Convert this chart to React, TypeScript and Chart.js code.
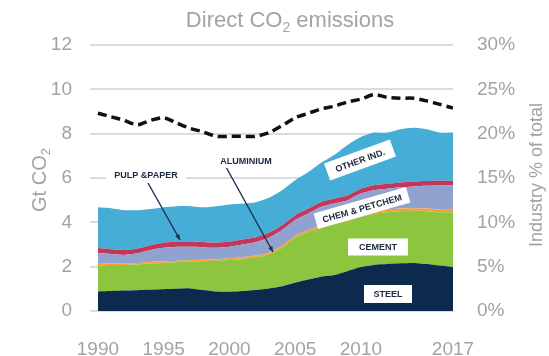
import React, { useEffect, useRef } from "react";
import { Chart, registerables } from "chart.js";

Chart.register(...registerables);

// Years on the horizontal axis
const years = [
  1990, 1991, 1992, 1993, 1994, 1995, 1996, 1997, 1998, 1999, 2000, 2001, 2002, 2003,
  2004, 2005, 2006, 2007, 2008, 2009, 2010, 2011, 2012, 2013, 2014, 2015, 2016, 2017,
];
const tickYears = [1990, 1995, 2000, 2005, 2010, 2017];

// Direct CO2 emissions by sector, Gt CO2 (stacked bottom to top)
const steel = [
  0.88, 0.9, 0.92, 0.94, 0.96, 0.98, 1.0, 1.02, 0.95, 0.88, 0.87, 0.9, 0.95, 1.02,
  1.12, 1.28, 1.42, 1.55, 1.62, 1.8, 1.98, 2.08, 2.12, 2.15, 2.17, 2.12, 2.05, 1.98,
];
const cement = [
  1.17, 1.17, 1.16, 1.16, 1.18, 1.19, 1.2, 1.2, 1.29, 1.39, 1.43, 1.45, 1.47, 1.53,
  1.73, 2.02, 2.13, 2.25, 2.33, 2.25, 2.27, 2.3, 2.33, 2.35, 2.35, 2.38, 2.4, 2.47,
];
const aluminium = [
  0.07, 0.07, 0.07, 0.07, 0.07, 0.07, 0.07, 0.07, 0.07, 0.07, 0.08, 0.08, 0.08, 0.08,
  0.09, 0.09, 0.1, 0.1, 0.11, 0.11, 0.12, 0.12, 0.12, 0.12, 0.12, 0.12, 0.12, 0.12,
];
const chemPetchem = [
  0.5, 0.43, 0.38, 0.43, 0.54, 0.61, 0.63, 0.61, 0.57, 0.51, 0.52, 0.57, 0.6, 0.67,
  0.71, 0.71, 0.75, 0.8, 0.79, 0.84, 0.93, 0.95, 0.95, 0.96, 0.98, 1.03, 1.09, 1.09,
];
const pulpPaper = [
  0.22, 0.22, 0.22, 0.22, 0.22, 0.23, 0.23, 0.23, 0.23, 0.23, 0.23, 0.23, 0.23, 0.23,
  0.22, 0.22, 0.22, 0.22, 0.22, 0.22, 0.22, 0.22, 0.22, 0.22, 0.22, 0.22, 0.22, 0.22,
];
const otherInd = [
  1.84, 1.85, 1.8, 1.73, 1.63, 1.6, 1.6, 1.6, 1.57, 1.65, 1.68, 1.62, 1.58, 1.58,
  1.58, 1.58, 1.65, 1.78, 1.98, 2.28, 2.33, 2.38, 2.31, 2.4, 2.43, 2.33, 2.17, 2.17,
];

// Industry share of total direct emissions, %
const industryShare = [
  22.3, 21.9, 21.5, 21.0, 21.5, 21.8, 21.2, 20.6, 20.2, 19.7, 19.7, 19.7, 19.7, 20.1,
  20.9, 21.8, 22.3, 22.8, 23.1, 23.6, 23.9, 24.4, 24.1, 24.0, 24.0, 23.7, 23.3, 22.9,
];

const GRAY = "#a3a3a3";
const FONT = "'Liberation Sans Narrow', 'Liberation Sans', Arial, sans-serif";
const LABEL_INK = "#1c2740";

const toPoints = (vals: number[]) => years.map((yr, i) => ({ x: yr, y: vals[i] }));

function drawSubscripted(
  ctx: CanvasRenderingContext2D,
  main: string,
  sub: string,
  tail: string,
  size: number,
  cx: number,
  baseline: number
) {
  ctx.font = `${size}px ${FONT}`;
  const a = ctx.measureText(main).width;
  const c = ctx.measureText(tail).width;
  ctx.font = `${Math.round(size * 0.65)}px ${FONT}`;
  const b = ctx.measureText(sub).width;
  let x = cx - (a + b + c) / 2;
  ctx.textAlign = "left";
  ctx.textBaseline = "alphabetic";
  ctx.font = `${size}px ${FONT}`;
  ctx.fillText(main, x, baseline);
  x += a;
  ctx.font = `${Math.round(size * 0.65)}px ${FONT}`;
  ctx.fillText(sub, x, baseline + size * 0.22);
  x += b;
  ctx.font = `${size}px ${FONT}`;
  ctx.fillText(tail, x, baseline);
}

function labelBox(
  ctx: CanvasRenderingContext2D,
  text: string,
  cx: number,
  cy: number,
  w: number,
  h: number,
  angleDeg: number
) {
  ctx.save();
  ctx.translate(cx, cy);
  ctx.rotate((angleDeg * Math.PI) / 180);
  ctx.fillStyle = "#ffffff";
  ctx.fillRect(-w / 2, -h / 2, w, h);
  ctx.fillStyle = LABEL_INK;
  ctx.font = `bold 9px 'Liberation Sans', Arial, sans-serif`;
  ctx.textAlign = "center";
  ctx.textBaseline = "middle";
  ctx.fillText(text, 0, 1);
  ctx.restore();
}

function pointer(ctx: CanvasRenderingContext2D, x1: number, y1: number, x2: number, y2: number) {
  ctx.save();
  ctx.strokeStyle = "#1b2f4e";
  ctx.fillStyle = "#1b2f4e";
  ctx.lineWidth = 1.4;
  ctx.beginPath();
  ctx.moveTo(x1, y1);
  ctx.lineTo(x2, y2);
  ctx.stroke();
  const ang = Math.atan2(y2 - y1, x2 - x1);
  ctx.beginPath();
  ctx.moveTo(x2, y2);
  ctx.lineTo(x2 - 6 * Math.cos(ang - 0.4), y2 - 6 * Math.sin(ang - 0.4));
  ctx.lineTo(x2 - 6 * Math.cos(ang + 0.4), y2 - 6 * Math.sin(ang + 0.4));
  ctx.closePath();
  ctx.fill();
  ctx.restore();
}

const annotations = {
  id: "annotations",
  afterDraw(chart: Chart) {
    const ctx = chart.ctx;
    ctx.save();
    ctx.fillStyle = GRAY;
    // chart title
    drawSubscripted(ctx, "Direct CO", "2", " emissions", 22, 290, 27);

    // left axis title
    ctx.save();
    ctx.translate(46, 180);
    ctx.rotate(-Math.PI / 2);
    ctx.fillStyle = GRAY;
    drawSubscripted(ctx, "Gt CO", "2", "", 20, 0, 0);
    ctx.restore();

    // right axis title
    ctx.save();
    ctx.translate(537, 175);
    ctx.rotate(-Math.PI / 2);
    ctx.fillStyle = GRAY;
    ctx.font = `18px ${FONT}`;
    ctx.textAlign = "center";
    ctx.textBaseline = "middle";
    ctx.fillText("Industry % of total", 0, 0);
    ctx.restore();

    // pointers to the thin bands
    pointer(ctx, 148, 183, 180, 240);
    pointer(ctx, 226, 167, 273, 252);

    // sector labels
    labelBox(ctx, "PULP &PAPER", 146, 175, 80, 16, 0);
    labelBox(ctx, "ALUMINIUM", 246, 161, 72, 14, 0);
    labelBox(ctx, "OTHER IND.", 360, 160, 70, 18, -20);
    labelBox(ctx, "CHEM & PETCHEM", 362, 208, 96, 16, -16);
    labelBox(ctx, "CEMENT", 378, 247, 60, 17, 0);
    labelBox(ctx, "STEEL", 388, 294, 48, 18, 0);
    ctx.restore();
  },
};

function area(label: string, vals: number[], color: string, fill: string | boolean) {
  return {
    label,
    data: toPoints(vals),
    backgroundColor: color,
    borderColor: color,
    borderWidth: 0,
    pointRadius: 0,
    fill,
    tension: 0.25,
    yAxisID: "y",
    order: 1,
  };
}

export default function App() {
  const canvasRef = useRef<HTMLCanvasElement | null>(null);

  useEffect(() => {
    if (!canvasRef.current) return;
    const chart = new Chart(canvasRef.current, {
      type: "line",
      data: {
        datasets: [
          area("Steel", steel, "#0c2a4d", "origin"),
          area("Cement", cement, "#8cc63e", "-1"),
          area("Aluminium", aluminium, "#f2a13a", "-1"),
          area("Chem & petchem", chemPetchem, "#8fa2d0", "-1"),
          area("Pulp & paper", pulpPaper, "#c4375c", "-1"),
          area("Other ind.", otherInd, "#46aed6", "-1"),
          {
            label: "Industry % of total",
            data: toPoints(industryShare),
            borderColor: "#111111",
            backgroundColor: "#111111",
            borderWidth: 3.5,
            borderDash: [9, 5],
            borderCapStyle: "butt",
            pointRadius: 0,
            fill: false,
            tension: 0.25,
            yAxisID: "y1",
            order: 0,
          },
        ],
      },
      options: {
        responsive: false,
        animation: false,
        devicePixelRatio: 1,
        layout: { padding: { top: 45, left: 0, right: 0, bottom: 0 } },
        plugins: {
          legend: { display: false },
          title: { display: false },
          tooltip: { enabled: false },
        },
        scales: {
          x: {
            type: "linear",
            min: 1989.4,
            max: 2017,
            grid: { display: false },
            border: { display: false },
            ticks: {
              color: GRAY,
              font: { family: FONT, size: 19 },
              padding: 19,
              maxRotation: 0,
              autoSkip: false,
              callback: (v: any) => String(v),
            },
            afterBuildTicks: (scale: any) => {
              scale.ticks = tickYears.map((v) => ({ value: v }));
            },
            afterFit: (scale: any) => {
              scale.height = 45;
            },
          },
          y: {
            stacked: true,
            position: "left",
            min: 0,
            max: 12,
            grid: { color: "#dcdcdc", lineWidth: 2, drawTicks: false },
            border: { display: false },
            ticks: {
              stepSize: 2,
              color: GRAY,
              font: { family: FONT, size: 19 },
              padding: 18,
            },
            afterFit: (scale: any) => {
              scale.width = 90;
            },
          },
          y1: {
            position: "right",
            min: 0,
            max: 30,
            grid: { display: false, drawTicks: false },
            border: { display: false },
            ticks: {
              stepSize: 5,
              color: GRAY,
              font: { family: FONT, size: 19 },
              padding: 24,
              callback: (v: any) => `${v}%`,
            },
            afterFit: (scale: any) => {
              scale.width = 96;
            },
          },
        },
      },
      plugins: [annotations],
    } as any);
    return () => chart.destroy();
  }, []);

  return (
    <div
      style={{
        position: "fixed",
        left: 0,
        top: 0,
        width: 549,
        height: 356,
        background: "#ffffff",
      }}
    >
      <canvas ref={canvasRef} width={549} height={356} />
    </div>
  );
}
